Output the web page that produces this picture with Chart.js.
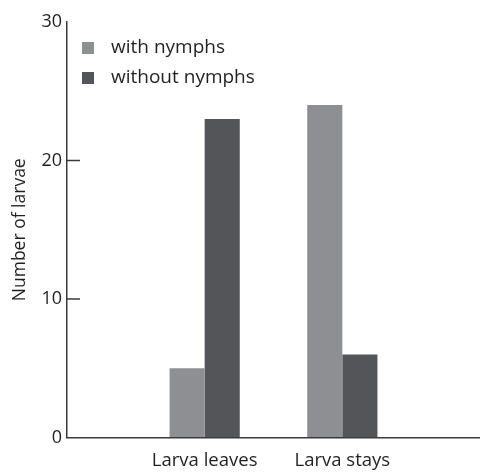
<!DOCTYPE html>
<html>
<head>
<meta charset="utf-8">
<script src="https://cdn.jsdelivr.net/npm/chart.js@4.4.1/dist/chart.umd.min.js"></script>
<style>
	html, body { margin: 0; padding: 0; background: #ffffff; }
	#larvae { display: block; }
</style>
</head>
<body>
<canvas id="larvae" width="480" height="472"></canvas>
<script>
// Larvae leaving / staying, with and without nymphs

let categories = ['Larva leaves', 'Larva stays'];
let withNymphs = [5, 24];
let withoutNymphs = [23, 6];
let yTicks = [0, 10, 20, 30];

let seriesNames = ['with nymphs', 'without nymphs'];
let seriesColors = ['#8e8f92', '#545558'];

let textColor = '#231f20';
let axisColor = '#3a3a3a';
let fontFamily = "'Open Sans', 'Noto Sans', sans-serif";

// empty slots either side so the two groups sit where they do in the figure
let labels_larvae = [''].concat(categories, ['']);
let pad = function(values) {
	return [null].concat(values, [null]);
};

// legend drawn top-left inside the plot, one entry per row
let legendPlugin = {
	id: 'stackedLegend',
	afterDraw: function(chart) {
		let ctx = chart.ctx;
		ctx.save();
		ctx.font = '19px ' + fontFamily;
		ctx.textBaseline = 'middle';
		ctx.textAlign = 'left';
		chart.data.datasets.forEach(function(ds, i) {
			let y = 48 + i * 30;
			ctx.fillStyle = ds.backgroundColor;
			ctx.fillRect(82, y - 6, 12, 12);
			ctx.fillStyle = textColor;
			ctx.fillText(ds.label, 111, y);
		});
		ctx.restore();
	}
};

// short tick marks pointing into the plot
let innerTicks = {
	id: 'innerTicks',
	afterDraw: function(chart) {
		let scale = chart.scales.y;
		let ctx = chart.ctx;
		ctx.save();
		ctx.strokeStyle = axisColor;
		ctx.lineWidth = 1.5;
		scale.ticks.forEach(function(t) {
			if (t.value === scale.min || t.value === scale.max) return;
			let py = scale.getPixelForValue(t.value);
			ctx.beginPath();
			ctx.moveTo(scale.right, py);
			ctx.lineTo(scale.right + 13, py);
			ctx.stroke();
		});
		ctx.restore();
	}
};

let ctx_larvae = document.getElementById('larvae').getContext('2d');

let chart_larvae = new Chart(ctx_larvae, {
	type: 'bar',
	data: {
		labels: labels_larvae,
		datasets: [{
			label: seriesNames[0],
			data: pad(withNymphs),
			backgroundColor: seriesColors[0],
			borderWidth: 0
		},
		{
			label: seriesNames[1],
			data: pad(withoutNymphs),
			backgroundColor: seriesColors[1],
			borderWidth: 0
		}]
	},
	options: {
		responsive: false,
		devicePixelRatio: 1,
		animation: false,
		categoryPercentage: 0.51,
		barPercentage: 1.0,
		layout: {
			// axis runs off the right edge in the figure
			padding: { top: 22, left: 0, right: -4, bottom: 0 }
		},
		plugins: {
			legend: { display: false },
			tooltip: { enabled: false }
		},
		scales: {
			x: {
				offset: false,
				grid: { display: true, drawOnChartArea: false, drawTicks: false },
				border: { display: true, color: axisColor, width: 1.5 },
				ticks: {
					color: textColor,
					font: { family: fontFamily, size: 18.5 },
					padding: 12,
					maxRotation: 0,
					autoSkip: false
				},
				afterFit: function(scale) {
					scale.height = 34.5;
					scale.paddingLeft = 0;
					scale.paddingRight = 0;
				}
			},
			y: {
				min: yTicks[0],
				max: yTicks[yTicks.length - 1],
				afterBuildTicks: function(scale) {
					scale.ticks = yTicks.map(function(v) { return { value: v }; });
				},
				grid: { display: true, drawOnChartArea: false, drawTicks: false },
				border: { display: true, color: axisColor, width: 1.5 },
				ticks: {
					color: textColor,
					font: { family: fontFamily, size: 18 },
					padding: 5
				},
				title: {
					display: true,
					text: 'Number of larvae',
					color: textColor,
					font: { family: fontFamily, size: 17.5 },
					padding: { top: 10, bottom: 0 }
				},
				afterFit: function(scale) { scale.width = 67; }
			}
		}
	},
	plugins: [legendPlugin, innerTicks]
});
</script>
</body>
</html>
